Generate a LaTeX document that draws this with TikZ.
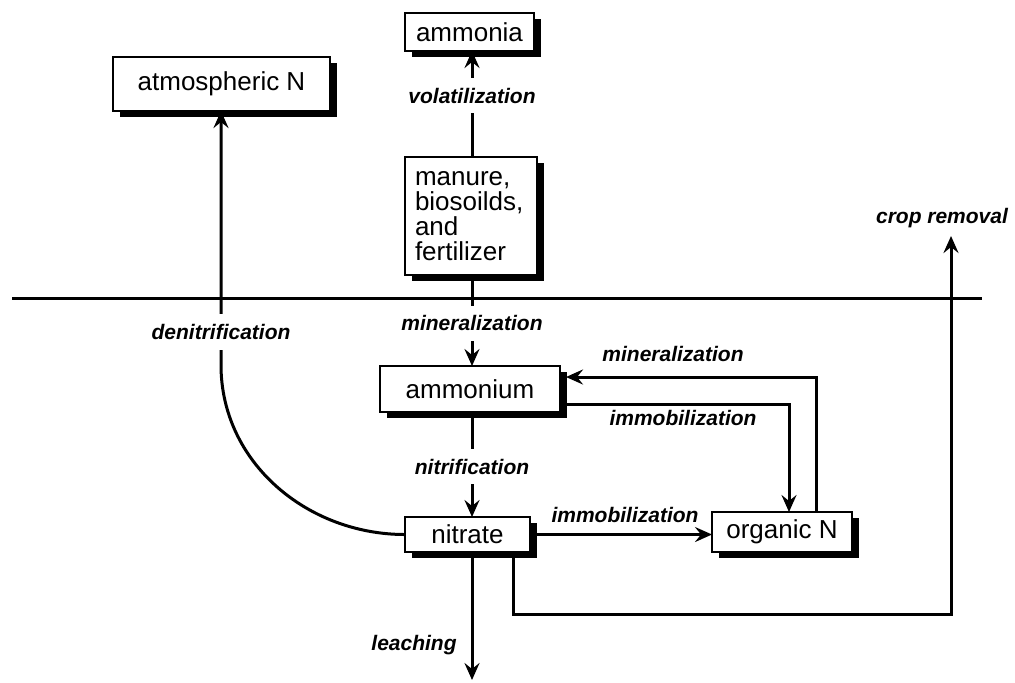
\documentclass[tikz,border=0pt]{standalone}
\usepackage{fontspec}
\setmainfont{Liberation Sans}
\usepackage{tikz}
\usetikzlibrary{calc, arrows.meta, shadows, positioning}
\tikzset{
	>={Stealth[length=8.5pt, width=7.5pt, inset=3pt]},
	pool/.style={
		draw,
		fill=white,
		line width=1.4pt,
		inner sep=0pt,
		outer sep=0pt,
		font=\fontsize{13}{12.5}\selectfont,
		drop shadow={shadow xshift=3.5pt, shadow yshift=-3.2pt, opacity=1, fill=black}
	},
	process/.style={
		font=\fontsize{10.5}{12}\selectfont\bfseries\itshape,
		inner sep=1.5pt
	},
	gap/.style={
		process,
		fill=white,
		inner ysep=5pt
	},
	flow/.style={
		->,
		line width=1.5pt
	}
}

\begin{document}
\begin{tikzpicture}[x=0.5pt, y=-0.5pt, line width=1.5pt]
\useasboundingbox (0,0) rectangle (1015,682);
% ---
% soil surface
% ---
\coordinate (soilL) at (12,298);
\coordinate (soilR) at (982,298);
\draw (soilL) -- (soilR);

% ---
% pools
% ---
\node[pool, minimum width=64.5pt, minimum height=19pt] at (469.5,32) (ammonia) {ammonia};
\node[pool, minimum width=108.5pt, minimum height=27pt] at (221.5,84) (atmos) {atmospheric N};
\node[pool, minimum width=66pt, minimum height=59pt, text width=56pt, inner xsep=5pt, align=left] at (471,216) (manure) {manure,\\biosoilds,\\and\\fertilizer};
\node[pool, minimum width=90pt, minimum height=23pt] at (470,389) (ammonium) {ammonium};
\node[pool, minimum width=62.5pt, minimum height=17.5pt] at (467.5,534.5) (nitrate) {nitrate};
\node[pool, minimum width=70pt, minimum height=20pt] at (782,532) (organic) {organic N};

% ---
% main column
% ---
\coordinate (col) at (472,0);
\draw[flow] (col |- manure.north) -- node[gap, pos=0.58] {volatilization} (col |- ammonia.south);
\draw[flow] (col |- manure.south) -- node[gap, pos=0.53] {mineralization} (col |- ammonium.north);
\draw[flow] (col |- ammonium.south) -- node[gap, pos=0.52] {nitrification} (col |- nitrate.north);
\coordinate (sink) at (472,680);
\draw[flow] (col |- nitrate.south) -- (sink);
\node[process] at (414,645) (leach) {leaching};

% ---
% denitrification
% ---
\coordinate (turn) at (221,365);
\draw[flow] (nitrate.west) to[out=180, in=-90] (turn) -- node[gap, pos=0.13] {denitrification} (turn |- atmos.south);

% ---
% ammonium / organic N loop
% ---
\draw[flow] ($(organic.north)+(34,0)$) |- ($(ammonium.east)+(6,-12)$);
\draw[flow] ($(ammonium.east)+(6,15)$) -| ($(organic.north)+(7,0)$);
\node[process] at (673,354) (minloop) {mineralization};
\node[process] at (683,418) (immloop) {immobilization};

\draw[flow] (nitrate.east) -- (nitrate.east -| organic.west);
\node[process] at (625,515) (immnit) {immobilization};

% ---
% crop removal
% ---
\coordinate (cropturn) at (951,614);
\coordinate (cropout) at (951,236);
\draw[flow] ($(nitrate.south)+(45.5,0)$) |- (cropturn) -- (cropout);
\node[process] at (942,218) (crop) {crop removal};
\end{tikzpicture}
\end{document}
